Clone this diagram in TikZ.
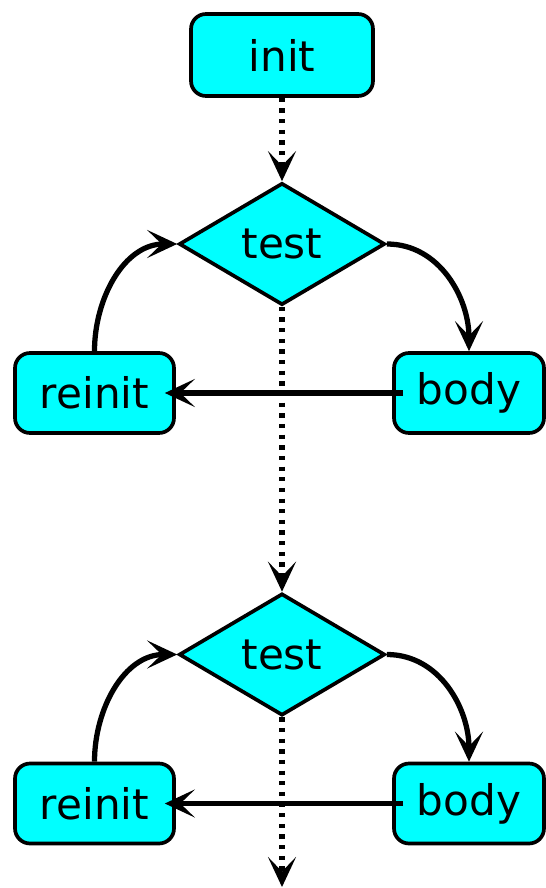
\documentclass[tikz,border=0pt]{standalone}
\usepackage{fontspec}
\setmainfont{DejaVu Sans}
\usetikzlibrary{shapes.geometric,arrows.meta}

\definecolor{boxfill}{RGB}{0,255,255}

\tikzset{
  label font/.style={font=\fontsize{24}{29}\selectfont},
  block/.style={draw=black, fill=boxfill, line width=2.1pt, rounded corners=0.3cm,
    inner sep=0pt, label font},
  decision/.style={diamond, draw=black, fill=boxfill, line width=2.1pt, aspect=1.65,
    inner sep=0pt, minimum width=4.12cm, minimum height=2.44cm, label font},
  flow/.style={line width=3pt, -{Stealth[length=0.6cm,width=0.56cm,inset=0.29cm]}},
  dotflow/.style={flow, dash pattern=on 0.085cm off 0.128cm},
}

\begin{document}
\begin{tikzpicture}[x=0.02cm, y=-0.02cm]
  \useasboundingbox (0,0) rectangle (545,888);

  % initialisation and first loop
  \node[block, minimum width=3.64cm, minimum height=1.64cm] (init) at (282,55) {init};
  \node[decision] (test1) at (282,244) {test};
  \node[block, minimum width=3.18cm, minimum height=1.6cm] (reinit1) at (94.5,393) {reinit};
  \node[block, minimum width=3.0cm, minimum height=1.6cm] (body1) at (469,393) {body};

  % second loop
  \node[decision] (test2) at (282,654.5) {test};
  \node[block, minimum width=3.18cm, minimum height=1.6cm] (reinit2) at (94.5,803.5) {reinit};
  \node[block, minimum width=3.0cm, minimum height=1.6cm] (body2) at (469,803.5) {body};
  \coordinate (exit) at (282,887);

  % connectors
  \draw[dotflow] (init.south) -- (test1.north);
  \draw[flow] (test1.east) to[out=0,in=90] (body1.north);
  \draw[flow] ([xshift=0.22cm]body1.west) -- ([xshift=-0.22cm]reinit1.east);
  \draw[flow] (reinit1.north) to[out=90,in=180] (test1.west);
  \draw[dotflow] (test1.south) -- (test2.north);

  \draw[flow] (test2.east) to[out=0,in=90] (body2.north);
  \draw[flow] ([xshift=0.22cm]body2.west) -- ([xshift=-0.22cm]reinit2.east);
  \draw[flow] (reinit2.north) to[out=90,in=180] (test2.west);
  \draw[dotflow] (test2.south) -- (exit);
\end{tikzpicture}
\end{document}
